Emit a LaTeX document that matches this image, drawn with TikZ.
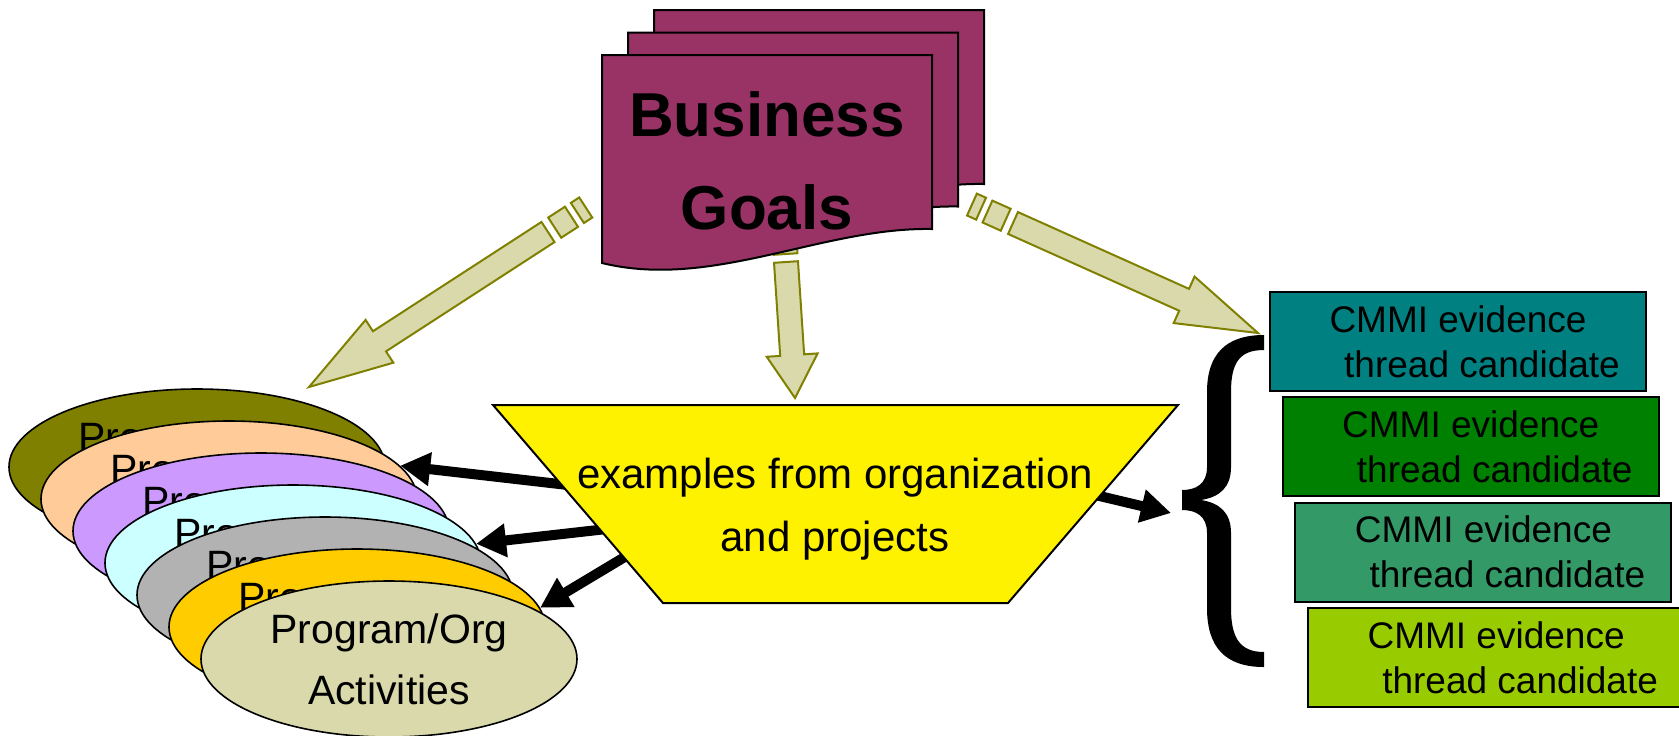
\documentclass[tikz,border=0pt]{standalone}
\usepackage{fontspec}
\setmainfont{Liberation Sans}
\usetikzlibrary{arrows.meta, calc, shapes.geometric}

\definecolor{goalred}{RGB}{153,51,102}
\definecolor{arrowtan}{RGB}{217,217,172}
\definecolor{arrowolive}{RGB}{128,128,0}
\definecolor{progolive}{RGB}{128,128,0}
\definecolor{progpeach}{RGB}{255,204,153}
\definecolor{proglilac}{RGB}{204,153,255}
\definecolor{progcyan}{RGB}{204,255,255}
\definecolor{proggray}{RGB}{178,178,178}
\definecolor{proggold}{RGB}{255,204,0}
\definecolor{progtan}{RGB}{217,217,172}
\definecolor{cmmiteal}{RGB}{0,128,128}
\definecolor{cmmigreen}{RGB}{0,128,0}
\definecolor{cmmisea}{RGB}{51,153,102}
\definecolor{cmmilime}{RGB}{153,204,0}

% striped block arrow: #1 tail, #2 tip, #3 head length
\newcommand{\goalarrow}[3]{%
  \path let \p1 = ($(#2)-(#1)$) in
    \pgfextra{\pgfmathparse{atan2(\y1,\x1)}\xdef\gaAngle{\pgfmathresult}%
              \pgfmathparse{veclen(\x1,\y1)*2}\xdef\gaLength{\pgfmathresult}};
  \begin{scope}[shift={(#1)}, rotate=\gaAngle, x=0.5pt, y=0.5pt]
    \draw[goalarrow] (-45,-12) rectangle (-35,12);
    \draw[goalarrow] (-28,-12) rectangle (-8,12);
    \draw[goalarrow] (0,-12) -- ({\gaLength-#3},-12) -- ({\gaLength-#3},-25.5)
      -- (\gaLength,0) -- ({\gaLength-#3},25.5) -- ({\gaLength-#3},12) -- (0,12) -- cycle;
  \end{scope}
}

\begin{document}
\begin{tikzpicture}[
    x=0.5pt, y=-0.5pt,
    page/.style = {draw, line width=1pt, fill=goalred},
    prog/.style = {ellipse, draw, line width=0.8pt, minimum width=188pt, minimum height=78pt,
                   inner sep=0pt, align=center, font=\fontsize{20.5}{30.5}\selectfont},
    cmmi/.style = {draw, line width=1pt, minimum width=188pt, minimum height=49.5pt,
                   inner sep=0pt, align=center, font=\fontsize{18.5}{22.5}\selectfont},
    link/.style = {line width=5pt, -{Triangle[length=15pt, width=16pt]}},
    goalarrow/.style = {draw=arrowolive, fill=arrowtan, line width=1pt}
  ]
  \useasboundingbox (0,0) rectangle (1679,735);

  % Program/Org stack, back to front
  \foreach \col [count=\i from 0] in {progolive, progpeach, proglilac, progcyan, proggray, proggold, progtan}
    \node[prog, fill=\col] (ell\i) at (197+32*\i, 467+32*\i) {Program/Org\\Activities};

  % examples funnel
  \coordinate (trTL) at (493,405);
  \coordinate (trTR) at (1178,405);
  \coordinate (trBR) at (1008,603);
  \coordinate (trBL) at (663,603);
  \coordinate (exA) at ($(trTL)!0.40!(trBL)$);
  \coordinate (exB) at ($(trTL)!0.63!(trBL)$);
  \coordinate (exC) at ($(trTL)!0.77!(trBL)$);
  \coordinate (exD) at ($(trTR)!0.46!(trBR)$);
  \coordinate (braceTip) at (1171,513);

  \draw[link, shorten <=-8pt] (exA) -- (ell1.11);
  \draw[link, shorten <=-8pt] (exB) -- (ell3.6);
  \draw[link, shorten <=-8pt] (exC) -- (ell5.6);
  \draw[link, shorten <=-8pt] (exD) -- (braceTip);

  \draw[line width=1pt, fill=yellow] (trTL) -- (trTR) -- (trBR) -- (trBL) -- cycle;
  \node[font=\fontsize{21}{31.5}\selectfont, align=center] (examples) at (835,509)
    {examples from organization\\and projects};

  % brace
  \fill (1264,335) .. controls (1225,335) and (1207,355) .. (1207,392)
    -- (1207,467) .. controls (1207,484) and (1196,490) .. (1182,490)
    -- (1182,510) .. controls (1196,510) and (1207,516) .. (1207,533)
    -- (1207,608) .. controls (1207,647) and (1225,667) .. (1264,667)
    -- (1264,652) .. controls (1240,652) and (1231,638) .. (1231,608)
    -- (1231,533) .. controls (1231,513) and (1220,503) .. (1201,500)
    .. controls (1220,497) and (1231,487) .. (1231,467)
    -- (1231,392) .. controls (1231,362) and (1240,350) .. (1264,350) -- cycle;

  % goal arrows
  \coordinate (gLtail) at (548,232);
  \coordinate (gLtip) at (309,387);
  \coordinate (gCtail) at (786,262);
  \coordinate (gCtip) at (795,398);
  \coordinate (gRtail) at (1013,223);
  \coordinate (gRtip) at (1258,333);
  \goalarrow{gLtail}{gLtip}{84}
  \goalarrow{gCtail}{gCtip}{43}
  \goalarrow{gRtail}{gRtip}{81}

  % Business Goals pages
  \foreach \dx/\dy in {52/-45, 26/-22.5, 0/0}
    \draw[page, shift={(602+\dx,55+\dy)}] (0,0) -- (330,0) -- (330,174)
      .. controls (220,172) and (110,235) .. (0,208) -- cycle;
  \node[font=\bfseries\fontsize{31}{46.5}\selectfont, align=center] (goals) at (767,161)
    {Business\\Goals};

  % evidence threads
  \foreach \col [count=\i from 0] in {cmmiteal, cmmigreen, cmmisea, cmmilime}
    \node[cmmi, fill=\col] (thread\i) at (1458+12.7*\i, 341.5+105.3*\i)
      {CMMI evidence\\\hspace*{24pt}thread candidate};

\end{tikzpicture}
\end{document}
